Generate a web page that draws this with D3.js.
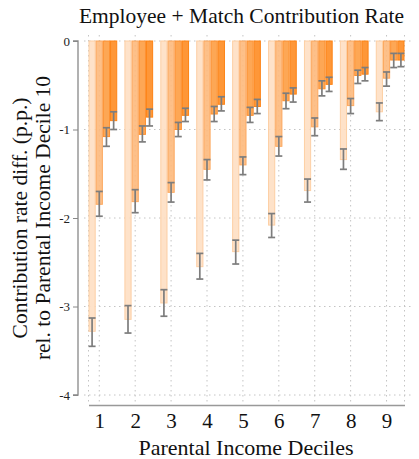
<!DOCTYPE html>
<html>
<head>
<meta charset="utf-8">
<script src="https://cdn.jsdelivr.net/npm/d3@7"></script>
<style>
  body { margin: 0; background: #fff; }
  svg { display: block; font-family: "Liberation Serif", "DejaVu Serif", serif; }
</style>
</head>
<body>
<div id="vis"></div>
<script>
// deciles on the x axis
const deciles = [1, 2, 3, 4, 5, 6, 7, 8, 9];
const yTicks = [0, -1, -2, -3, -4];

// four bars per decile, lightest to darkest
const estA = [-3.28, -3.145, -2.96, -2.55, -2.38, -2.08, -1.69, -1.34, -0.80];
const loA  = [-3.45, -3.30, -3.11, -2.69, -2.52, -2.22, -1.82, -1.45, -0.90];
const hiA  = [-3.13, -2.99, -2.81, -2.40, -2.25, -1.95, -1.56, -1.22, -0.70];

const estB = [-1.845, -1.815, -1.71, -1.45, -1.40, -1.19, -0.97, -0.73, -0.42];
const loB  = [-1.98, -1.94, -1.82, -1.57, -1.51, -1.30, -1.07, -0.82, -0.51];
const hiB  = [-1.70, -1.68, -1.60, -1.34, -1.31, -1.08, -0.87, -0.65, -0.35];

const estC = [-1.08, -1.055, -1.00, -0.825, -0.84, -0.675, -0.54, -0.39, -0.215];
const loC  = [-1.19, -1.14, -1.08, -0.91, -0.92, -0.765, -0.62, -0.48, -0.30];
const hiC  = [-0.98, -0.96, -0.92, -0.74, -0.75, -0.59, -0.45, -0.33, -0.14];

const estD = [-0.90, -0.86, -0.84, -0.715, -0.74, -0.60, -0.49, -0.375, -0.215];
const loD  = [-1.00, -0.96, -0.91, -0.79, -0.82, -0.69, -0.57, -0.45, -0.29];
const hiD  = [-0.80, -0.77, -0.76, -0.63, -0.66, -0.53, -0.41, -0.30, -0.14];

const series = [
  { est: estA, lo: loA, hi: hiA, offset: -0.2, fill: "#fedfc3", stroke: "#fdcfa4" },
  { est: estB, lo: loB, hi: hiB, offset: 0.0,  fill: "#fdb97c", stroke: "#fca85e" },
  { est: estC, lo: loC, hi: hiC, offset: 0.2,  fill: "#fd9d42", stroke: "#fd9030" },
  { est: estD, lo: loD, hi: hiD, offset: 0.4,  fill: "#fe8c22", stroke: "#fd8315" }
];
const barW = 0.2;

const width = 419, height = 459;

const svg = d3.select("#vis").append("svg")
    .attr("width", width)
    .attr("height", height);

const x = d3.scaleLinear().domain([0.7, 9.5]).range([88.5, 404.5]);
const y = d3.scaleLinear().domain([-4, 0]).range([395, 41]);

//grid lines
const grid = svg.append("g")
    .attr("stroke", "#c4c4c4")
    .attr("stroke-width", 1)
    .attr("stroke-dasharray", "1.5,3.5");

grid.selectAll(".hgrid")
    .data(yTicks)
    .enter().append("line")
    .attr("x1", 84).attr("x2", 413)
    .attr("y1", (d) => y(d)).attr("y2", (d) => y(d));

grid.selectAll(".vgrid")
    .data([0.7].concat(deciles, [9.5]))
    .enter().append("line")
    .attr("x1", (d) => x(d)).attr("x2", (d) => x(d))
    .attr("y1", 35).attr("y2", 402);

//bars
series.forEach((s) => {
  svg.append("g").selectAll("rect")
      .data(deciles)
      .enter().append("rect")
      .attr("x", (d) => x(d + s.offset - barW / 2) + 0.5)
      .attr("width", x(barW) - x(0) - 1)
      .attr("y", y(0))
      .attr("height", (d, i) => y(s.est[i]) - y(0))
      .attr("fill", s.fill)
      .attr("fill-opacity", 0.9)
      .attr("stroke", s.stroke)
      .attr("stroke-width", 1);
});

//error bars
series.forEach((s) => {
  const eb = svg.append("g")
      .attr("stroke", "#7d7d7d")
      .attr("stroke-width", 1.7);
  const cx = (d) => x(d + s.offset);
  eb.selectAll(".stem").data(deciles).enter().append("line")
      .attr("x1", cx).attr("x2", cx)
      .attr("y1", (d, i) => y(s.hi[i])).attr("y2", (d, i) => y(s.lo[i]));
  eb.selectAll(".capTop").data(deciles).enter().append("line")
      .attr("x1", (d) => cx(d) - 3.5).attr("x2", (d) => cx(d) + 3.5)
      .attr("y1", (d, i) => y(s.hi[i])).attr("y2", (d, i) => y(s.hi[i]));
  eb.selectAll(".capBot").data(deciles).enter().append("line")
      .attr("x1", (d) => cx(d) - 3.5).attr("x2", (d) => cx(d) + 3.5)
      .attr("y1", (d, i) => y(s.lo[i])).attr("y2", (d, i) => y(s.lo[i]));
});

//y axis
const yAxis = svg.append("g")
    .attr("transform", "translate(78,0)")
    .call(d3.axisLeft(y).tickValues(yTicks).tickSize(5).tickPadding(3).tickFormat(d3.format("d")));
yAxis.select(".domain").attr("stroke", "#888").attr("stroke-width", 1.3).attr("d", "M-5," + y(0) + "H0V" + y(-4) + "H-5");
yAxis.selectAll(".tick line").attr("stroke", "#888");
yAxis.selectAll(".tick text")
    .attr("font-size", 13)
    .attr("font-family", "Liberation Serif")
    .attr("fill", "#222")
    .text((d) => d === 0 ? "0" : "-" + Math.abs(d));

//x axis
const xAxis = svg.append("g")
    .attr("transform", "translate(0,405)")
    .call(d3.axisBottom(x).tickValues(deciles).tickSize(0).tickPadding(8).tickFormat(d3.format("d")));
xAxis.select(".domain").attr("stroke", "#999").attr("stroke-width", 1.3);
xAxis.selectAll(".tick text")
    .attr("font-size", 21)
    .attr("font-family", "Liberation Serif")
    .attr("fill", "#111");

//titles
svg.append("text")
    .attr("x", 241.5).attr("y", 23)
    .attr("text-anchor", "middle")
    .attr("font-size", 21.5)
    .attr("fill", "#111")
    .text("Employee + Match Contribution Rate");

svg.append("text")
    .attr("x", 246).attr("y", 455)
    .attr("text-anchor", "middle")
    .attr("font-size", 22)
    .attr("fill", "#111")
    .text("Parental Income Deciles");

const yTitle = svg.append("text")
    .attr("transform", "translate(0,218) rotate(-90)")
    .attr("text-anchor", "middle")
    .attr("font-size", 21.5)
    .attr("fill", "#111");
yTitle.append("tspan").attr("x", 0).attr("y", 27).text("Contribution rate diff. (p.p.)");
yTitle.append("tspan").attr("x", 0).attr("y", 50).text("rel. to Parental Income Decile 10");
</script>
</body>
</html>
